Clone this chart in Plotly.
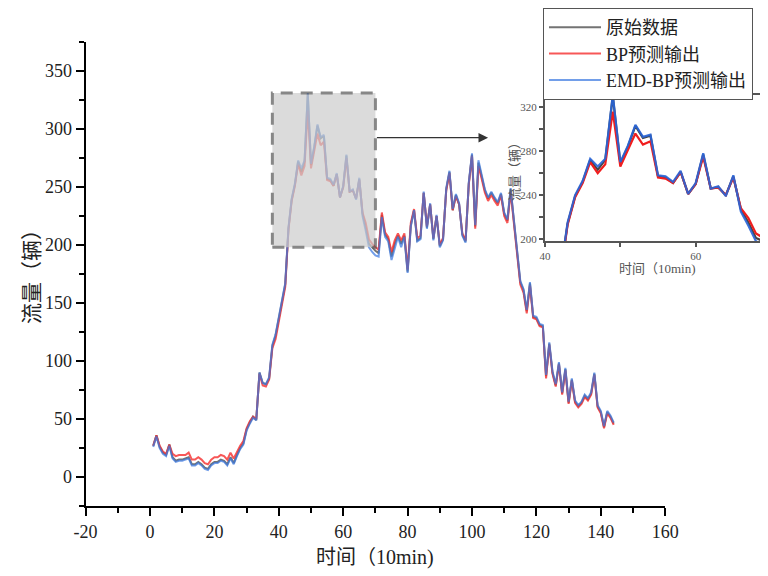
import plotly.graph_objects as go

# ---------------- data ----------------
t = list(range(1, 145))

original = [27, 36, 26, 21, 19, 28, 17, 14, 15, 15,
            16, 17, 11, 11, 13, 11, 8, 7, 11, 13,
            13, 15, 14, 11, 17, 12, 19, 25, 29, 41,
            47, 52, 49, 90, 81, 80, 85, 113, 122, 137,
            154, 166, 214, 239, 252, 272, 263, 272, 330, 269,
            284, 303, 292, 294, 257, 256, 251, 261, 241, 250,
            277, 246, 247, 240, 257, 227, 215, 201, 198, 195,
            193, 226, 209, 205, 190, 201, 208, 201, 208, 177,
            217, 230, 204, 206, 245, 215, 235, 205, 225, 199,
            205, 248, 263, 230, 243, 235, 209, 203, 253, 278,
            216, 271, 259, 247, 240, 245, 240, 236, 244, 227,
            221, 248, 221, 191, 168, 161, 143, 167, 138, 137,
            131, 130, 87, 115, 90, 79, 98, 72, 93, 64,
            84, 65, 61, 64, 70, 67, 72, 89, 61, 56,
            43, 56, 52, 46]

bp_pred = [27, 36, 27, 22, 20, 28, 20, 18, 19, 19,
           19, 21, 15, 15, 17, 15, 12, 11, 15, 17,
           17, 19, 18, 15, 21, 16, 22, 27, 31, 42,
           48, 52, 50, 89, 79, 78, 84, 111, 119, 134,
           151, 164, 213, 238, 251, 270, 260, 268, 316, 266,
           281, 296, 286, 289, 256, 255, 251, 261, 241, 250,
           275, 246, 247, 240, 256, 228, 219, 205, 201, 198,
           196, 228, 211, 207, 194, 204, 210, 204, 210, 179,
           219, 231, 206, 208, 245, 216, 235, 206, 225, 200,
           206, 247, 262, 230, 242, 235, 210, 204, 252, 277,
           214, 268, 257, 245, 238, 243, 238, 234, 243, 225,
           219, 246, 219, 190, 166, 159, 141, 165, 137, 136,
           130, 129, 85, 114, 89, 78, 97, 71, 92, 63,
           83, 64, 60, 63, 69, 66, 71, 88, 60, 55,
           42, 55, 51, 45]

emd_bp_pred = [26, 35, 25, 20, 18, 27, 16, 13, 14, 14,
               15, 16, 10, 10, 12, 10, 7, 6, 10, 12,
               12, 14, 13, 10, 16, 11, 18, 24, 28, 40,
               46, 51, 49, 90, 81, 80, 86, 114, 123, 138,
               155, 167, 215, 240, 253, 273, 266, 273, 331, 270,
               285, 304, 293, 295, 258, 257, 252, 262, 241, 251,
               278, 246, 248, 239, 258, 225, 212, 198, 194, 191,
               190, 224, 207, 203, 187, 198, 207, 198, 207, 176,
               216, 230, 203, 205, 246, 214, 236, 204, 226, 198,
               204, 249, 264, 231, 244, 236, 208, 202, 254, 279,
               217, 273, 260, 248, 241, 246, 241, 237, 245, 228,
               222, 249, 222, 192, 169, 162, 144, 168, 139, 138,
               132, 131, 88, 116, 91, 80, 99, 73, 94, 65,
               85, 66, 62, 65, 71, 68, 73, 90, 62, 57,
               44, 57, 53, 47]

series_names = ["原始数据", "BP预测输出", "EMD-BP预测输出"]
x_ticks = [-20, 0, 20, 40, 60, 80, 100, 120, 140, 160]
y_ticks = [0, 50, 100, 150, 200, 250, 300, 350]
inset_x_ticks = [40, 60]
inset_y_ticks = [200, 240, 280, 320]

# ---------------- styling ----------------
OFF = 8                      # page body margin
W, H = 768 - OFF, 576 - OFF
FONT = "Liberation Serif, Noto Sans CJK SC, serif"
c_gray = "rgba(100,100,100,0.9)"
c_red = "rgba(245,45,45,0.8)"
c_blue = "rgba(60,120,225,0.72)"

def px_x(p):
    return (p - OFF) / W

def px_y(p):
    return 1 - (p - OFF) / H

fig = go.Figure()

for vals, name, col in [(original, series_names[0], c_gray),
                        (bp_pred, series_names[1], c_red),
                        (emd_bp_pred, series_names[2], c_blue)]:
    fig.add_trace(go.Scatter(x=t, y=vals, mode="lines", name=name,
                             line=dict(color=col, width=2),
                             xaxis="x", yaxis="y"))

for vals, col in [(original, "rgb(70,70,70)"),
                  (bp_pred, "rgb(240,30,30)"),
                  (emd_bp_pred, "rgba(40,100,215,0.9)")]:
    fig.add_trace(go.Scatter(x=t, y=vals, mode="lines", showlegend=False,
                             line=dict(color=col, width=2.2),
                             xaxis="x2", yaxis="y2"))

axis_common = dict(showgrid=False, zeroline=False, showline=True,
                   linecolor="black", linewidth=2, ticks="outside",
                   tickwidth=2, ticklen=8, tickcolor="black",
                   tickfont=dict(family=FONT, size=18, color="#222"))

inset_common = dict(showgrid=False, zeroline=False, showline=True,
                    linecolor="#555", linewidth=2, ticks="outside", ticklen=4,
                    tickwidth=1.5, tickcolor="#555",
                    tickfont=dict(family=FONT, size=11, color="#555"))

fig.update_layout(
    width=W, height=H,
    margin=dict(l=0, r=0, t=0, b=0, autoexpand=False),
    paper_bgcolor="white", plot_bgcolor="white",
    font=dict(family=FONT, color="#222"),
    xaxis=dict(axis_common, range=[-20, 160],
               domain=[px_x(85.6), px_x(665.2)],
               tickmode="array", tickvals=x_ticks,
               ticktext=[str(v) for v in x_ticks],
               minor=dict(ticks="outside", ticklen=5, tickwidth=2,
                          tickcolor="black", dtick=10, tick0=0),
               anchor="y"),
    yaxis=dict(axis_common, range=[-25, 375],
               domain=[px_y(506), px_y(42)],
               tickmode="array", tickvals=y_ticks,
               ticktext=[str(v) for v in y_ticks],
               minor=dict(ticks="outside", ticklen=5, tickwidth=2,
                          tickcolor="black", dtick=25, tick0=0),
               anchor="x"),
    xaxis2=dict(inset_common, mirror=True,
                range=[40, 69.6], domain=[px_x(545), 1.0],
                tickmode="array", tickvals=inset_x_ticks,
                ticktext=[str(v) for v in inset_x_ticks],
                minor=dict(ticks="outside", ticklen=4, tickwidth=1.5,
                           tickcolor="#555", dtick=10, tick0=0),
                anchor="y2"),
    yaxis2=dict(inset_common, mirror=False,
                range=[198.2, 331.1], domain=[px_y(241), px_y(95)],
                tickmode="array", tickvals=inset_y_ticks,
                ticktext=[str(v) for v in inset_y_ticks],
                minor=dict(ticks="outside", ticklen=4, tickwidth=1.5,
                           tickcolor="#555", dtick=20, tick0=0),
                anchor="x2"),
    legend=dict(x=px_x(543), y=px_y(8), xanchor="left", yanchor="top",
                bgcolor="white", bordercolor="#555", borderwidth=1,
                font=dict(family=FONT, size=18, color="#222"),
                itemwidth=52, tracegroupgap=0),
    showlegend=True,
)

# zoom rectangle (drawn above lines, semi transparent)
fig.add_shape(type="rect", xref="x", yref="y", x0=38, x1=70, y0=198, y1=331,
              fillcolor="rgb(205,205,205)", opacity=0.7, layer="above",
              line=dict(color="#555", width=3, dash="12px,8px"))

# arrow from rectangle to inset
fig.add_annotation(x=105, y=292.5, ax=70, ay=292.5, xref="x", yref="y",
                   axref="x", ayref="y", text="", showarrow=True,
                   arrowhead=2, arrowsize=1.6, arrowwidth=1.2,
                   arrowcolor="#333")

# axis titles
fig.add_annotation(text="时间（10min)", xref="paper", yref="paper",
                   x=px_x(375), y=px_y(557), xanchor="center", yanchor="middle",
                   showarrow=False,
                   font=dict(family=FONT, size=20, color="#222"))
fig.add_annotation(text="流量（辆）", xref="paper", yref="paper",
                   x=px_x(32), y=px_y(272), xanchor="center", yanchor="middle",
                   showarrow=False, textangle=-90,
                   font=dict(family=FONT, size=21, color="#222"))
fig.add_annotation(text="时间（10min)", xref="paper", yref="paper",
                   x=px_x(657), y=px_y(268), xanchor="center", yanchor="middle",
                   showarrow=False,
                   font=dict(family=FONT, size=13, color="#555"))
fig.add_annotation(text="流量（辆）", xref="paper", yref="paper",
                   x=px_x(514), y=px_y(168), xanchor="center", yanchor="middle",
                   showarrow=False, textangle=-90,
                   font=dict(family=FONT, size=13, color="#555"))

fig.write_html("out.html")
